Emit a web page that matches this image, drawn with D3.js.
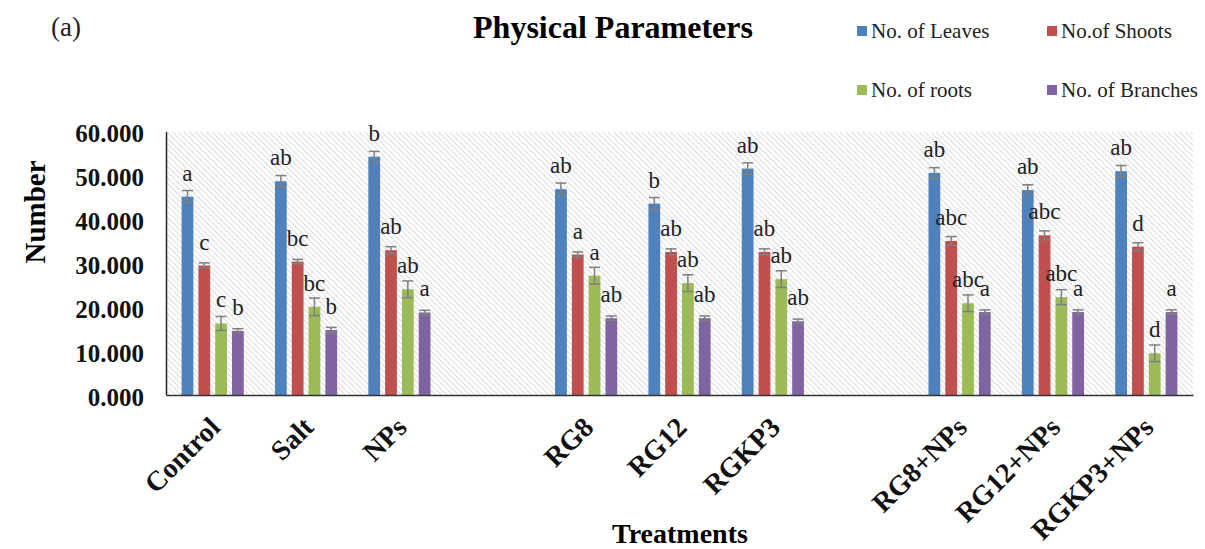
<!DOCTYPE html>
<html>
<head>
<meta charset="utf-8">
<script src="https://cdn.jsdelivr.net/npm/d3@7"></script>
<style>
  body { margin: 0; background: #fff; }
  svg { display: block; }
</style>
</head>
<body>
<div id="chart"></div>
<script>
// Physical parameters - grouped bars with error bars and letters

// Data (blank slots are the gaps between treatment groups)
const categories = ["Control", "Salt", "NPs", " ", "RG8", "RG12", "RGKP3", "  ", "RG8+NPs", "RG12+NPs", "RGKP3+NPs"];
const seriesNames = ["No. of Leaves", "No.of Shoots", "No. of roots", "No. of Branches"];

const leaves      = [45.2, 48.7, 54.3, null, 46.9, 43.6, 51.6, null, 50.6, 46.7, 51.0];
const leavesErr   = [1.4, 1.3, 1.2, null, 1.4, 1.4, 1.3, null, 1.2, 1.2, 1.3];
const shoots      = [29.5, 30.4, 33.0, null, 32.0, 32.6, 32.6, null, 35.1, 36.4, 33.8];
const shootsErr   = [0.6, 0.5, 0.8, null, 0.6, 0.7, 0.7, null, 1.0, 1.0, 0.9];
const roots       = [16.3, 20.1, 24.1, null, 27.2, 25.5, 26.4, null, 20.9, 22.3, 9.5];
const rootsErr    = [1.6, 2.0, 1.9, null, 1.9, 1.9, 1.9, null, 1.9, 1.7, 1.9];
const branches    = [14.6, 14.8, 18.8, null, 17.5, 17.5, 16.8, null, 18.9, 18.9, 18.9];
const branchesErr = [0.5, 0.6, 0.5, null, 0.5, 0.5, 0.5, null, 0.5, 0.5, 0.5];

const leavesLetters   = ["a", "ab", "b", "", "ab", "b", "ab", "", "ab", "ab", "ab"];
const shootsLetters   = ["c", "bc", "ab", "", "a", "ab", "ab", "", "abc", "abc", "d"];
const rootsLetters    = ["c", "bc", "ab", "", "a", "ab", "ab", "", "abc", "abc", "d"];
const branchesLetters = ["b", "b", "a", "", "ab", "ab", "ab", "", "a", "a", "a"];

const yTicks = [0, 10, 20, 30, 40, 50, 60];
const colors = ["#4F81BD", "#C0504D", "#9BBB59", "#8064A2"];

const serif = "'Times New Roman', 'Liberation Serif', 'DejaVu Serif', serif";

// Dimensions
const width = 1205, height = 549;
const margin = { top: 131.7, right: 12, bottom: 154, left: 166 };
const plotW = width - margin.left - margin.right;
const plotH = height - margin.top - margin.bottom;

const svg = d3.select("#chart")
  .append("svg")
    .attr("width", width)
    .attr("height", height);

// Hatched plot background
const defs = svg.append("defs");
const pattern = defs.append("pattern")
    .attr("id", "hatch")
    .attr("patternUnits", "userSpaceOnUse")
    .attr("width", 4)
    .attr("height", 4)
    .attr("patternTransform", "rotate(-45)");
pattern.append("rect").attr("width", 4).attr("height", 4).attr("fill", "#fff");
pattern.append("line")
    .attr("x1", 0).attr("y1", 0).attr("x2", 0).attr("y2", 4)
    .attr("stroke", "#c8c8c8")
    .attr("stroke-width", 1.3);

const g = svg.append("g")
    .attr("transform", `translate(${margin.left},${margin.top})`);

g.append("rect")
    .attr("width", plotW)
    .attr("height", plotH)
    .attr("fill", "url(#hatch)");

// Scales
const x0 = d3.scaleBand()
  .domain(categories)
  .range([0, plotW]);

const groupW = 67.2;
const x1 = d3.scaleBand()
  .domain(seriesNames)
  .range([-groupW / 2, groupW / 2])
  .paddingInner(0.3)
  .paddingOuter(0.15);

const y = d3.scaleLinear()
  .domain([0, 60])
  .range([plotH, 0]);

// Build series table
const series = [
  { name: seriesNames[0], values: leaves, errs: leavesErr, letters: leavesLetters },
  { name: seriesNames[1], values: shoots, errs: shootsErr, letters: shootsLetters },
  { name: seriesNames[2], values: roots, errs: rootsErr, letters: rootsLetters },
  { name: seriesNames[3], values: branches, errs: branchesErr, letters: branchesLetters }
];

const rows = [];
series.forEach((s, si) => {
  categories.forEach((c, ci) => {
    if (s.values[ci] == null) return;
    rows.push({ cat: c, series: s.name, si: si, value: s.values[ci], err: s.errs[ci], letter: s.letters[ci] });
  });
});

const cx = d => x0(d.cat) + x0.bandwidth() / 2 + x1(d.series) + x1.bandwidth() / 2;

// Bars
g.selectAll("rect.bar")
  .data(rows)
  .enter()
  .append("rect")
    .attr("class", "bar")
    .attr("x", d => x0(d.cat) + x0.bandwidth() / 2 + x1(d.series))
    .attr("y", d => y(d.value))
    .attr("width", x1.bandwidth())
    .attr("height", d => plotH - y(d.value))
    .attr("fill", d => colors[d.si]);

// Error bars
const eb = g.selectAll("g.err")
  .data(rows)
  .enter()
  .append("g")
    .attr("class", "err")
    .attr("stroke", "#7f7f7f")
    .attr("stroke-width", 1.5);

eb.append("line")
    .attr("x1", cx).attr("x2", cx)
    .attr("y1", d => y(d.value - d.err))
    .attr("y2", d => y(d.value + d.err));
eb.append("line")
    .attr("x1", d => cx(d) - 5.5).attr("x2", d => cx(d) + 5.5)
    .attr("y1", d => y(d.value + d.err))
    .attr("y2", d => y(d.value + d.err));
eb.append("line")
    .attr("x1", d => cx(d) - 5.5).attr("x2", d => cx(d) + 5.5)
    .attr("y1", d => y(d.value - d.err))
    .attr("y2", d => y(d.value - d.err));

// Significance letters
g.selectAll("text.letter")
  .data(rows)
  .enter()
  .append("text")
    .attr("class", "letter")
    .attr("x", cx)
    .attr("y", d => y(d.value) - 16)
    .attr("text-anchor", "middle")
    .style("font-family", serif)
    .style("font-size", "23px")
    .style("fill", "#222")
    .text(d => d.letter);

// Y Axis
const yAxis = g.append("g")
  .call(d3.axisLeft(y).tickValues(yTicks).tickFormat(d3.format(".3f")).tickSize(0).tickPadding(22));
yAxis.select(".domain").attr("stroke", "#222").attr("stroke-width", 1.5);
yAxis.selectAll("text")
  .attr("dy", "0.4em")
  .style("font-family", serif)
  .style("font-weight", "bold")
  .style("font-size", "25px")
  .style("fill", "#111");

// X Axis
const xAxis = g.append("g")
  .attr("transform", `translate(0,${plotH})`)
  .call(d3.axisBottom(x0).tickSize(0).tickSizeOuter(0));
xAxis.select(".domain").attr("stroke", "#333").attr("stroke-width", 1.5);
xAxis.selectAll("text")
  .attr("text-anchor", "end")
  .attr("dy", 0)
  .attr("transform", "translate(9,34) rotate(-45)")
  .attr("y", 0)
  .style("font-family", serif)
  .style("font-weight", "bold")
  .style("font-size", "28px")
  .style("fill", "#111");

// Axis labels
svg.append("text")
  .attr("x", 680)
  .attr("y", 543)
  .attr("text-anchor", "middle")
  .style("font-family", serif)
  .style("font-weight", "bold")
  .style("font-size", "28px")
  .text("Treatments");

svg.append("text")
  .attr("transform", "rotate(-90)")
  .attr("x", -212)
  .attr("y", 45)
  .attr("text-anchor", "middle")
  .style("font-family", serif)
  .style("font-weight", "bold")
  .style("font-size", "29px")
  .text("Number");

// Title and panel tag
svg.append("text")
  .attr("x", 613)
  .attr("y", 38)
  .attr("text-anchor", "middle")
  .style("font-family", serif)
  .style("font-weight", "bold")
  .style("font-size", "32px")
  .text("Physical Parameters");

svg.append("text")
  .attr("x", 51)
  .attr("y", 36)
  .style("font-family", serif)
  .style("font-size", "27px")
  .style("fill", "#222")
  .text("(a)");

// Legend
const legendPos = [
  { x: 857, y: 31 }, { x: 1047, y: 31 },
  { x: 857, y: 90 }, { x: 1047, y: 90 }
];
const legend = svg.selectAll("g.legend")
  .data(seriesNames)
  .enter()
  .append("g")
    .attr("class", "legend")
    .attr("transform", (d, i) => `translate(${legendPos[i].x},${legendPos[i].y})`);
legend.append("rect")
    .attr("x", 0).attr("y", -5)
    .attr("width", 10).attr("height", 10)
    .attr("fill", (d, i) => colors[i]);
legend.append("text")
    .attr("x", 14)
    .attr("y", 7)
    .style("font-family", serif)
    .style("font-size", "21px")
    .style("fill", "#222")
    .text(d => d);
</script>
</body>
</html>
